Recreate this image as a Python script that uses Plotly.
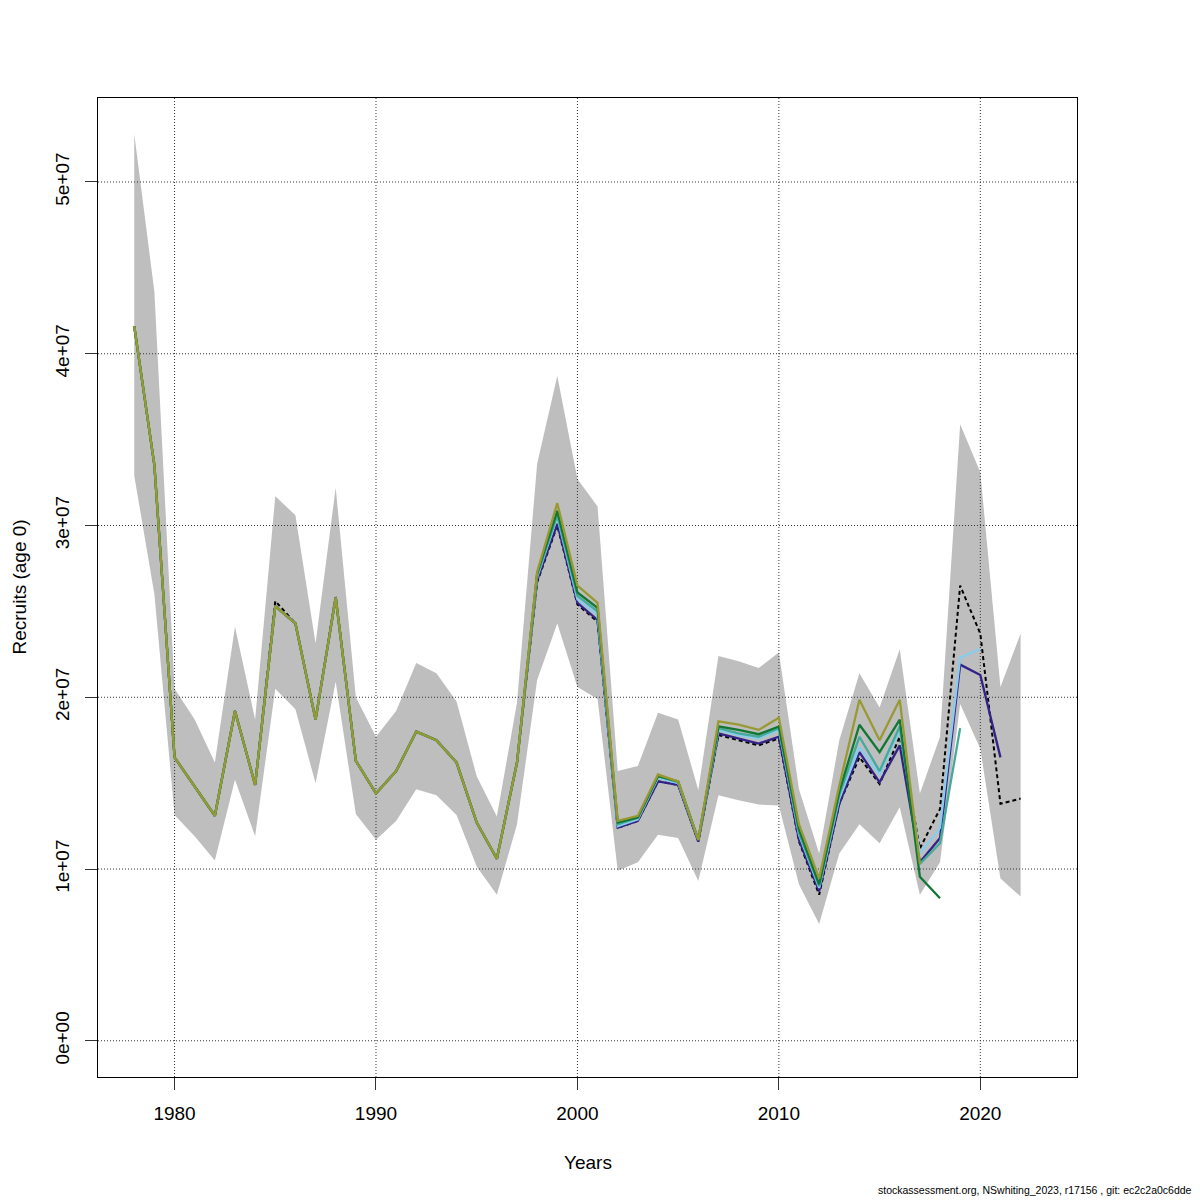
import plotly.graph_objects as go

#Years and recruitment estimates (millions)
years = list(range(1978, 2023))

base = [41.6, 33.5, 16.5, 14.8, 13.1, 19.2, 14.9, 25.6, 24.3, 18.7, 25.9, 16.3, 14.4, 15.7, 18.0,
        17.5, 16.2, 12.7, 10.6, 16.2, 26.7, 30.0, 25.4, 24.4, 12.4, 12.8, 15.1, 14.9, 11.6, 17.8,
        17.5, 17.2, 17.6, 11.6, 8.5, 13.8, 16.5, 14.95, 17.7, 11.2, 13.5, 26.5, 23.7, 13.8, 14.1]

low = [32.9, 26.0, 13.15, 11.9, 10.5, 15.2, 11.9, 20.5, 19.3, 15.0, 20.9, 13.2, 11.7, 12.8, 14.65,
       14.3, 13.15, 10.15, 8.5, 12.6, 21.0, 24.3, 20.6, 19.9, 9.9, 10.4, 12.0, 11.8, 9.3, 14.3,
       14.0, 13.75, 13.7, 9.1, 6.8, 10.9, 12.6, 11.5, 13.6, 8.5, 10.4, 19.6, 17.0, 9.45, 8.4]

high = [52.8, 43.6, 20.5, 18.7, 16.2, 24.1, 18.7, 31.7, 30.6, 23.15, 32.2, 20.0, 17.7, 19.2, 22.0,
        21.4, 19.75, 15.4, 13.05, 19.7, 33.6, 38.7, 32.7, 31.1, 15.7, 16.0, 19.1, 18.7, 14.6, 22.4,
        22.1, 21.7, 22.6, 14.65, 10.9, 17.5, 21.4, 19.4, 22.8, 14.4, 17.7, 35.9, 33.1, 20.6, 23.7]

#retrospective peels, each one year shorter
peel1 = [41.6, 33.5, 16.5, 14.8, 13.1, 19.2, 14.9, 25.3, 24.3, 18.7, 25.8, 16.3, 14.4, 15.7, 18.0,
         17.5, 16.2, 12.7, 10.6, 16.2, 26.8, 30.1, 25.5, 24.5, 12.4, 12.8, 15.1, 14.9, 11.6, 17.9,
         17.6, 17.3, 17.7, 11.7, 8.7, 13.8, 16.8, 15.05, 17.2, 10.4, 11.8, 21.9, 21.3, 16.5]
peel2 = [41.6, 33.5, 16.5, 14.8, 13.1, 19.2, 14.9, 25.3, 24.3, 18.7, 25.8, 16.3, 14.4, 15.7, 18.0,
         17.5, 16.2, 12.7, 10.6, 16.2, 27.0, 30.5, 25.7, 24.8, 12.5, 12.9, 15.3, 15.0, 11.7, 18.1,
         17.8, 17.6, 18.1, 12.0, 8.9, 14.1, 17.1, 15.5, 18.1, 10.9, 12.4, 22.3, 22.8]
peel3 = [41.6, 33.5, 16.5, 14.8, 13.1, 19.2, 14.9, 25.3, 24.3, 18.7, 25.8, 16.3, 14.4, 15.7, 18.0,
         17.5, 16.2, 12.7, 10.6, 16.2, 27.1, 30.6, 25.9, 25.0, 12.6, 13.0, 15.4, 15.05, 11.7, 18.2,
         17.9, 17.7, 18.2, 12.1, 9.0, 14.3, 17.7, 15.7, 18.3, 10.3, 11.5, 18.2]
peel4 = [41.6, 33.5, 16.5, 14.8, 13.1, 19.2, 14.9, 25.3, 24.3, 18.7, 25.8, 16.3, 14.4, 15.7, 18.0,
         17.5, 16.2, 12.7, 10.6, 16.2, 27.2, 30.85, 26.1, 25.2, 12.7, 13.0, 15.4, 15.1, 11.7, 18.3,
         18.1, 17.85, 18.3, 12.3, 9.1, 14.5, 18.4, 16.8, 18.7, 9.55, 8.3]
peel5 = [41.6, 33.5, 16.5, 14.8, 13.1, 19.2, 14.9, 25.3, 24.3, 18.7, 25.8, 16.3, 14.4, 15.7, 18.0,
         17.5, 16.2, 12.7, 10.6, 16.2, 27.3, 31.3, 26.5, 25.5, 12.8, 13.1, 15.5, 15.1, 11.7, 18.6,
         18.4, 18.1, 18.8, 12.6, 9.45, 14.85, 19.85, 17.5, 19.85, 10.3]

peel_colors = ['#332288', '#88CCEE', '#44AA99', '#117733', '#999933']

xticks = [1980, 1990, 2000, 2010, 2020]
yticks = [0, 1e7, 2e7, 3e7, 4e7, 5e7]
ylabels = ['0e+00', '1e+07', '2e+07', '3e+07', '4e+07', '5e+07']

xr = [1976.2, 2024.8]
yr = [-2.11e6, 54.89e6]

def sc(v):
    return [a * 1e6 for a in v]

fig = go.Figure()

#confidence band
fig.add_trace(go.Scatter(x=years + years[::-1], y=sc(high) + sc(low)[::-1], fill='toself',
                         fillcolor='#BEBEBE', line={'width': 0}, mode='lines', hoverinfo='skip'))

#dotted grid on top of the band
grid = {'color': '#333333', 'width': 1, 'dash': '1px,2px'}
for t in yticks:
    fig.add_trace(go.Scatter(x=xr, y=[t, t], mode='lines', line=grid, hoverinfo='skip'))
for t in xticks:
    fig.add_trace(go.Scatter(x=[t, t], y=yr, mode='lines', line=grid, hoverinfo='skip'))

#base run
fig.add_trace(go.Scatter(x=years, y=sc(base), mode='lines',
                         line={'color': 'black', 'width': 2, 'dash': '4px,3px'}))

for p, c in zip([peel1, peel2, peel3, peel4, peel5], peel_colors):
    fig.add_trace(go.Scatter(x=years[:len(p)], y=sc(p), mode='lines', line={'color': c, 'width': 2.3}))

fnt = 'Liberation Sans, Arial, sans-serif'
#page body adds 8px, so margins are shifted to keep the box at 98..1077
fig.update_layout(width=1200, height=1200, showlegend=False,
                  plot_bgcolor='white', paper_bgcolor='white',
                  margin={'l': 90, 'r': 131, 't': 90, 'b': 131},
                  font={'family': fnt, 'size': 19, 'color': 'black'})

fig.update_xaxes(range=xr, tickvals=xticks, showgrid=False, zeroline=False,
                 showline=True, mirror=True, linecolor='black', linewidth=1,
                 ticks='outside', ticklen=12, tickcolor='#333333', ticklabelstandoff=7)
fig.update_yaxes(range=yr, tickvals=yticks, ticktext=ylabels, tickangle=-90, showgrid=False,
                 zeroline=False, showline=True, mirror=True, linecolor='black', linewidth=1,
                 ticks='outside', ticklen=12, tickcolor='#333333', ticklabelstandoff=8)

fig.add_annotation(text='Years', xref='paper', yref='paper', x=0.5, y=0, yanchor='middle',
                   yshift=-85, showarrow=False, font={'size': 19})
fig.add_annotation(text='Recruits (age 0)', xref='paper', yref='paper', x=0, y=0.5,
                   xanchor='center', xshift=-79, textangle=-90, showarrow=False, font={'size': 19})
fig.add_annotation(text='stockassessment.org, NSwhiting_2023, r17156 , git: ec2c2a0c6dde',
                   xref='paper', yref='paper', x=1, y=0, xanchor='right', yanchor='middle',
                   xshift=117, yshift=-113, showarrow=False, font={'size': 10.5})

fig.write_html("out.html")
